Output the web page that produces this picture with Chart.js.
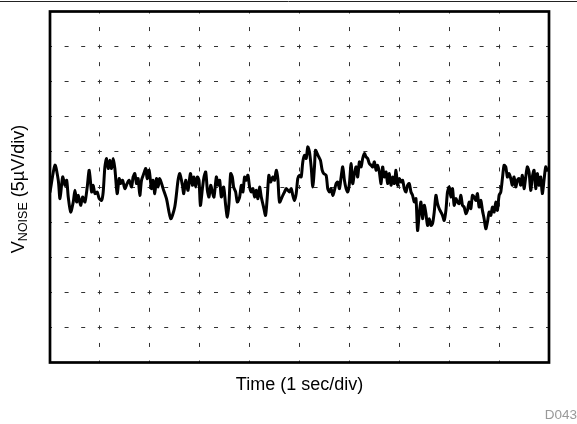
<!DOCTYPE html>
<html>
<head>
<meta charset="utf-8">
<script src="https://cdn.jsdelivr.net/npm/chart.js@4"></script>
<style>
  html, body { margin: 0; padding: 0; background: #fff; }
  canvas { display: block; }
</style>
</head>
<body>
<canvas id="noiseChart" width="577" height="424"></canvas>
<script>
// time axis in seconds, 10 divisions of 1 sec
const timeSec = [
  0, 0.10, 0.166, 0.20, 0.254, 0.30, 0.334, 0.366, 0.414, 0.466, 0.50, 0.534, 0.566, 0.614, 0.654, 0.70,
  0.746, 0.786, 0.834, 0.866, 0.90, 0.946, 0.986, 1.034, 1.066, 1.10, 1.134, 1.166, 1.20, 1.234, 1.266, 1.30,
  1.346, 1.386, 1.414, 1.454, 1.50, 1.546, 1.586, 1.634, 1.666, 1.70, 1.734, 1.766, 1.80, 1.834, 1.88, 1.92,
  1.946, 1.986, 2.034, 2.066, 2.10, 2.134, 2.166,
  2.20, 2.266, 2.334, 2.42, 2.50, 2.566, 2.60, 2.654, 2.68, 2.72, 2.766, 2.814, 2.854, 2.886, 2.92, 2.954,
  2.986, 3.014, 3.054, 3.086, 3.12, 3.154, 3.186, 3.22, 3.254, 3.286, 3.334, 3.366, 3.40, 3.434, 3.48, 3.52,
  3.554, 3.586, 3.62, 3.654, 3.68, 3.72, 3.754, 3.80, 3.834, 3.866, 3.90, 3.934, 3.966, 4.00, 4.034, 4.066,
  4.10, 4.134, 4.166, 4.20, 4.234, 4.28, 4.32, 4.354, 4.386, 4.42, 4.466, 4.50, 4.534, 4.566,
  4.60, 4.666, 4.70, 4.734, 4.766, 4.80, 4.834, 4.866, 4.90, 4.934, 4.966, 5.00, 5.034, 5.066, 5.10, 5.134,
  5.166, 5.20, 5.234, 5.266, 5.30, 5.32, 5.354, 5.386, 5.42, 5.454, 5.486, 5.534, 5.566, 5.60, 5.634, 5.666,
  5.70, 5.734, 5.766, 5.80, 5.834, 5.866, 5.90, 5.934, 5.966, 6.00, 6.034, 6.066, 6.10, 6.134, 6.166, 6.20,
  6.234, 6.266, 6.30, 6.334, 6.366, 6.40, 6.434, 6.466, 6.50, 6.534, 6.566, 6.60, 6.634, 6.666, 6.70, 6.734,
  6.766, 6.80, 6.834, 6.866, 6.90, 6.934, 6.966,
  7.00, 7.034, 7.066, 7.10, 7.134, 7.166, 7.20, 7.234, 7.266, 7.30, 7.334, 7.366, 7.40, 7.434, 7.466, 7.50,
  7.534, 7.566, 7.60, 7.634, 7.666, 7.70, 7.734, 7.766, 7.80, 7.834, 7.866, 7.90, 7.934, 7.966, 8.00, 8.034,
  8.066, 8.10, 8.134, 8.166, 8.20, 8.234, 8.266, 8.30, 8.334, 8.366, 8.40, 8.434, 8.466, 8.50, 8.534, 8.566,
  8.60, 8.634, 8.666, 8.70, 8.734, 8.766, 8.80, 8.834, 8.866, 8.90, 8.934, 8.966, 9.00, 9.034, 9.066, 9.10,
  9.134, 9.166, 9.20, 9.234, 9.266, 9.30, 9.334, 9.366, 9.40, 9.434, 9.466, 9.50, 9.534, 9.566, 9.60, 9.634,
  9.666, 9.70, 9.734, 9.766, 9.80, 9.834, 9.866, 9.90, 9.934, 9.966
];

// noise voltage in uV (5 uV per division)
const noiseUV = [
  -0.71, 3.10, 0.96, -1.66, 1.43, 0.24, 0.96, -1.43, -3.57, -2.14, -0.47, -2.14, -1.19, -2.61, -1.43, -2.14,
  0, 2.39, -0.71, 0.24, -0.94, -0.71, -1.66, -1.90, -0.71, 2.86, 4.06, 2.63, 3.81, 2.63, 4.06, 2.63,
  -0.94, 1.20, 0.49, 0.96, -0.23, 0.49, 0.96, 0, 1.43, 1.91, 0.49, 1.20, -1.19, 0.96, 1.91, 2.63,
  1.20, 2.39, -0.23, 0.96, -0.94, 1.20, 0,
  1.20, -0.23, -1.66, -4.51, -2.86, 0.96, 1.91, 0.24, -0.94, 0.96, -0.47, 1.91, 0.24, 1.43, 0, 1.43,
  0.96, -2.61, -0.23, 1.43, 2.14, -0.47, -1.43, 0.24, -0.71, -1.43, 1.43, 0.24, 0.96, -1.43, 0, -2.61,
  -4.29, -2.37, 1.91, 1.43, 0, -0.71, -2.14, -1.43, 0.24, -0.71, 1.43, 0.96, 1.67, 0, -0.71, -0.23,
  -1.43, -0.47, -1.66, 0, -1.43, -2.86, -4.04, -1.43, 1.67, 0.71, 1.43, 0.96, 2.39, 1.20,
  -2.14, -1.19, -0.71, -0.23, -0.47, -0.71, -0.23, -1.19, -1.90, -0.94, 1.20, 1.67, 1.43, 3.57, 4.53, 4.06,
  5.71, 5.00, 2.86, 0, 2.86, 5.24, 4.77, 4.29, 3.81, 2.39, 1.91, 1.67, -0.23, -0.71, -0.23, -1.19,
  -0.47, 0.49, 0.71, -0.23, 1.43, 2.86, 0.96, -0.23, -0.71, 0.49, 3.34, 0.49, 1.91, 2.86, 1.43, 3.57,
  2.86, 4.06, 4.77, 4.29, 4.06, 3.34, 3.10, 2.86, 3.57, 2.39, 3.10, 2.14, 0.49, 2.86, 1.43, 2.14,
  0.49, 1.91, 0.24, 1.43, 0.49, 2.39, 0.24,
  1.20, 0.71, 0.96, -0.23, -0.71, 0.24, 0.49, -0.71, -1.19, -2.14, -1.66, -6.19, -3.80, -2.14, -4.51, -2.61,
  -3.80, -5.47, -4.51, -5.47, -5.23, -3.57, -1.19, -2.37, -3.09, -3.57, -4.04, -4.76, -3.33, -0.71, 0, -1.43,
  -0.23, -2.61, -1.66, -2.14, -2.37, -1.19, -2.61, -2.86, -3.80, -3.33, -2.14, -3.09, -1.19, -1.43, -1.90, -0.94,
  -2.86, -1.90, -3.33, -4.51, -5.94, -5.00, -3.57, -4.04, -2.86, -3.57, -2.14, -3.33, -1.19, -0.71, 1.20, 3.10,
  2.86, 1.43, 1.91, 1.20, 0.24, 1.43, 0, 0.96, 1.20, 0.24, 1.67, -0.23, 1.43, 2.86, 2.14, -0.47,
  1.43, 2.39, -0.23, 1.91, 0.24, 1.43, -0.94, 0.96, 2.86, 2.39
];

const xTitle = 'Time (1 sec/div)';
const yTitleMain = 'V';
const yTitleSub = 'NOISE';
const yTitleRest = ' (5\u00b5V/div)';
const figureId = 'D043';

const points = timeSec.map((t, i) => ({ x: t, y: noiseUV[i] }));

const FONT = '"Liberation Sans", Arial, sans-serif';

// frame, top rule and the hand-placed titles
const decorPlugin = {
  id: 'decor',
  afterDatasetsDraw(chart) {
    const { ctx, chartArea } = chart;
    ctx.save();
    ctx.strokeStyle = '#000';
    ctx.lineWidth = 2.7;
    ctx.strokeRect(chartArea.left, chartArea.top, chartArea.right - chartArea.left, chartArea.bottom - chartArea.top);
    ctx.restore();
  },
  afterDraw(chart) {
    const { ctx, chartArea } = chart;
    ctx.save();
    // thin rule across the top of the figure
    ctx.strokeStyle = '#222';
    ctx.lineWidth = 1;
    ctx.beginPath();
    ctx.moveTo(0, 1.5);
    ctx.lineTo(577, 1.5);
    ctx.stroke();

    ctx.fillStyle = '#000';
    ctx.font = '18px ' + FONT;
    ctx.textAlign = 'center';
    ctx.textBaseline = 'middle';
    ctx.fillText(xTitle, (chartArea.left + chartArea.right) / 2, 385);

    // rotated y title with subscript
    ctx.translate(18, 189);
    ctx.rotate(-Math.PI / 2);
    const bigFont = '18px ' + FONT;
    const smallFont = '12.5px ' + FONT;
    ctx.font = bigFont;
    const w1 = ctx.measureText(yTitleMain).width;
    const w3 = ctx.measureText(yTitleRest).width;
    ctx.font = smallFont;
    const w2 = ctx.measureText(yTitleSub).width;
    let x = -(w1 + w2 + w3) / 2;
    ctx.textAlign = 'left';
    ctx.textBaseline = 'alphabetic';
    ctx.font = bigFont;
    ctx.fillText(yTitleMain, x, 6);
    x += w1;
    ctx.font = smallFont;
    ctx.fillText(yTitleSub, x, 8.5);
    x += w2;
    ctx.font = bigFont;
    ctx.fillText(yTitleRest, x, 6);
    ctx.restore();

    ctx.save();
    ctx.fillStyle = '#999';
    ctx.font = '13.5px ' + FONT;
    ctx.textAlign = 'right';
    ctx.textBaseline = 'middle';
    ctx.fillText(figureId, 577, 415);
    ctx.restore();
  }
};

new Chart(document.getElementById('noiseChart'), {
  type: 'line',
  data: {
    datasets: [
      {
        label: 'VNOISE',
        data: points,
        borderColor: '#000',
        borderWidth: 3,
        borderJoinStyle: 'round',
        borderCapStyle: 'round',
        pointRadius: 0,
        tension: 0.25,
        fill: false
      }
    ]
  },
  options: {
    responsive: false,
    animation: false,
    devicePixelRatio: 1,
    layout: { padding: { left: 50, top: 11.5, right: 28, bottom: 61.5 } },
    plugins: { legend: { display: false }, tooltip: { enabled: false } },
    scales: {
      x: {
        type: 'linear',
        min: 0,
        max: 10,
        ticks: { display: false, stepSize: 1 },
        grid: { color: '#333', lineWidth: 1, drawTicks: false },
        border: { display: false, dash: [4, 13.55], dashOffset: 2 },
        afterFit(scale) { scale.height = 0; }
      },
      y: {
        min: -25,
        max: 25,
        ticks: { display: false, stepSize: 5 },
        grid: { color: '#333', lineWidth: 1, drawTicks: false },
        border: { display: false, dash: [4, 12.6], dashOffset: 2 },
        afterFit(scale) { scale.width = 0; }
      }
    }
  },
  plugins: [decorPlugin]
});
</script>
</body>
</html>
